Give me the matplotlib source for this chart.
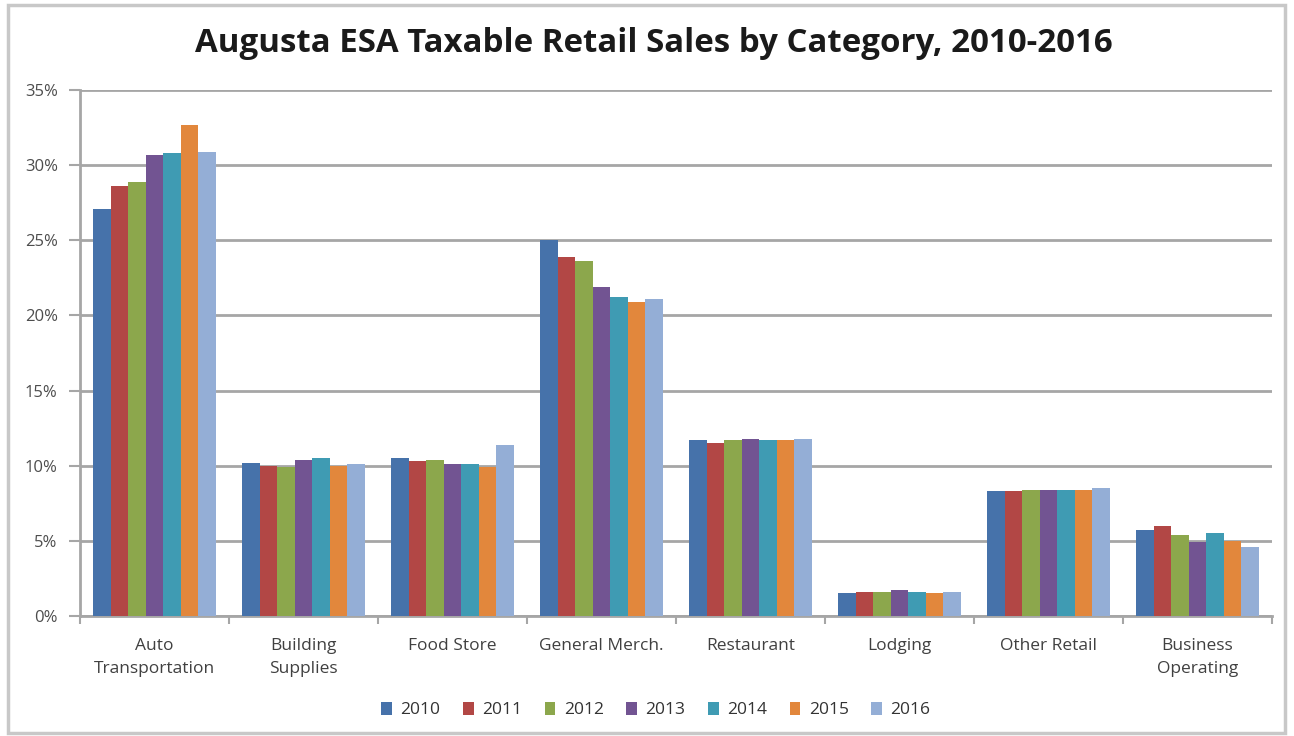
import matplotlib
matplotlib.use("Agg")
import matplotlib.pyplot as plt
import numpy as np
from matplotlib.ticker import FuncFormatter

categories = ["Auto\nTransportation", "Building\nSupplies", "Food Store", "General Merch.",
              "Restaurant", "Lodging", "Other Retail", "Business\nOperating"]
years = ["2010", "2011", "2012", "2013", "2014", "2015", "2016"]

# Share of taxable retail sales (%) per category, one list per year
s2010 = [27.1, 10.2, 10.5, 25.0, 11.7, 1.5, 8.3, 5.7]
s2011 = [28.6, 10.0, 10.3, 23.9, 11.5, 1.6, 8.3, 6.0]
s2012 = [28.9, 9.9, 10.4, 23.6, 11.7, 1.6, 8.4, 5.4]
s2013 = [30.7, 10.4, 10.1, 21.9, 11.8, 1.7, 8.4, 4.9]
s2014 = [30.8, 10.5, 10.1, 21.2, 11.7, 1.6, 8.4, 5.5]
s2015 = [32.7, 10.0, 9.9, 20.9, 11.7, 1.5, 8.4, 5.0]
s2016 = [30.9, 10.1, 11.4, 21.1, 11.8, 1.6, 8.5, 4.6]
series = [s2010, s2011, s2012, s2013, s2014, s2015, s2016]

colors = ["#4672aa", "#b24745", "#8ca74c", "#725492", "#3f9bb3", "#e2873c", "#94aed6"]

plt.rcParams["font.family"] = ["Open Sans", "DejaVu Sans"]

fig = plt.figure(figsize=(12.94, 7.36), dpi=100)
fig.patch.set_facecolor("white")

# thin frame around the whole chart area
frame = plt.Rectangle((8 / 1294, 3 / 736), 1277 / 1294, 728 / 736, transform=fig.transFigure,
                      fill=False, edgecolor="#c8c8c8", linewidth=2.5)
fig.add_artist(frame)

ax = fig.add_axes([80 / 1294, 1 - 616 / 736, 1192 / 1294, 526 / 736])

n = len(years)
bw = 0.118
x = np.arange(len(categories))
for i, (yr, vals) in enumerate(zip(years, series)):
    offs = (i - (n - 1) / 2) * bw
    ax.bar(x + offs, vals, width=bw, color=colors[i], label=yr, zorder=3, linewidth=0)

ax.set_xlim(-0.5, len(categories) - 0.5)
ax.set_ylim(0, 35)
ax.set_yticks(np.arange(0, 36, 5))
ax.yaxis.set_major_formatter(FuncFormatter(lambda v, p: f"{int(v)}%"))
ax.grid(axis="y", color="#a6a6a6", linewidth=2.0, zorder=0)
ax.set_axisbelow(True)

for side in ["top", "right"]:
    ax.spines[side].set_visible(False)
for side in ["left", "bottom"]:
    ax.spines[side].set_color("#a6a6a6")
    ax.spines[side].set_linewidth(2.0)

ax.tick_params(axis="y", length=8, width=1.5, color="#a6a6a6", labelsize=12,
               labelcolor="#4d4d4d", pad=8)
# category boundary ticks on the x axis, labels centred on each group
ax.set_xticks(np.arange(-0.5, len(categories), 1.0))
ax.set_xticklabels([])
ax.set_xticks(x, minor=True)
ax.set_xticklabels(categories, minor=True, fontsize=12.5, color="#404040", linespacing=1.55)
ax.tick_params(axis="x", which="major", length=6, width=1.5, color="#a6a6a6")
ax.tick_params(axis="x", which="minor", length=0, pad=16)
for lbl in ax.get_xticklabels(minor=True):
    lbl.set_verticalalignment("top")

fig.text(0.505, 1 - 44 / 736, "Augusta ESA Taxable Retail Sales by Category, 2010-2016",
         ha="center", va="center", fontsize=23.8, fontweight="bold", color="#1a1a1a")

leg = fig.legend(loc="center", bbox_to_anchor=(656 / 1294, 1 - 710 / 736), ncol=7,
                 frameon=False, fontsize=12.5, handlelength=0.6, handleheight=0.8,
                 handletextpad=0.5, columnspacing=1.3)
for t in leg.get_texts():
    t.set_color("#333333")

fig.savefig("out.png", dpi=100, facecolor="white")
